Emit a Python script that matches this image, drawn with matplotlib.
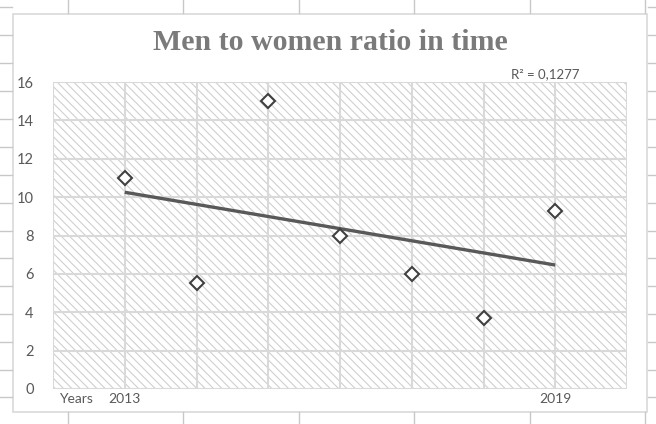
import numpy as np
import matplotlib
matplotlib.use('Agg')
import matplotlib.pyplot as plt
from matplotlib.patches import Rectangle
from matplotlib.lines import Line2D

years = [2013, 2014, 2015, 2016, 2017, 2018, 2019]
ratio = [11.0, 5.5, 15.0, 8.0, 6.0, 3.7, 9.3]
x_ticks = [2012, 2013, 2014, 2015, 2016, 2017, 2018, 2019, 2020]
x_labels = ['', '2013', '', '', '', '', '', '2019', '']
y_ticks = [0, 2, 4, 6, 8, 10, 12, 14, 16]
r2_label = 'R² = 0,1277'

W, H = 656, 424
plt.rcParams['hatch.linewidth'] = 0.8


def px(x, y):
    # pixel coords (top-left origin) -> figure fraction
    return x / W, 1 - y / H


fig = plt.figure(figsize=(W / 100, H / 100), dpi=100)
fig.patch.set_facecolor('white')

# spreadsheet cell lines peeking out around the chart
cell_col = '#c8c8c8'
for cx in [68, 183, 299, 414, 530, 645]:
    fig.add_artist(Line2D([cx / W] * 2, [1, 1 - 13 / H], color=cell_col, lw=1))
    fig.add_artist(Line2D([cx / W] * 2, [1 - 412 / H, 0], color=cell_col, lw=1))
for ry in [7, 35, 63, 91, 119, 147, 175, 203, 231, 258, 286, 314, 342, 370, 397]:
    fig.add_artist(Line2D([0, 12 / W], [1 - ry / H] * 2, color=cell_col, lw=1))
    fig.add_artist(Line2D([648 / W, 1], [1 - ry / H] * 2, color=cell_col, lw=1))

# chart border
x0, y0 = px(13, 412)
fig.add_artist(Rectangle((x0, y0), (647 - 13) / W, (412 - 14) / H,
                         transform=fig.transFigure, facecolor='white',
                         edgecolor='#d9d9d9', lw=1.2, zorder=0))

l, b = px(53, 389)
r, t = px(627, 82)
ax = fig.add_axes([l, b, r - l, t - b])
ax.set_facecolor('none')

ax.add_patch(Rectangle((0, 0), 1, 1, transform=ax.transAxes, facecolor='white',
                       edgecolor='#d0d0d0', hatch='\\\\\\\\', lw=0, zorder=0))

ax.set_xlim(2012, 2020)
ax.set_ylim(0, 16)
ax.set_xticks(x_ticks)
ax.set_xticklabels(x_labels)
ax.set_yticks(y_ticks)
ax.grid(True, color='#d9d9d9', lw=1.5, zorder=1)
ax.set_axisbelow(True)
for s in ax.spines.values():
    s.set_visible(False)
ax.tick_params(length=0, labelsize=10, labelcolor='#595959')
ax.tick_params(axis='x', pad=3)
ax.tick_params(axis='y', pad=14, labelsize=10.5)
for lab in ax.get_xticklabels() + ax.get_yticklabels():
    lab.set_fontfamily('Lato')

ax.text(2012.32, -0.21, 'Years', ha='center', va='top', fontsize=10,
        color='#595959', family='Lato')

ax.plot(years, ratio, linestyle='none', marker='D', markersize=7,
        markerfacecolor='white', markeredgecolor='#404040',
        markeredgewidth=1.5, zorder=3, clip_on=False)

# linear trendline
xs = np.array(years, dtype=float)
ys = np.array(ratio)
k, c = np.polyfit(xs, ys, 1)
ax.plot([xs[0], xs[-1]], [k * xs[0] + c, k * xs[-1] + c], color='#595959',
        lw=2.4, solid_capstyle='butt', zorder=2)

fig.text(545 / W, 1 - 74 / H, r2_label, ha='center', va='center',
         fontsize=9.5, color='#595959', family='Lato')

fig.text(330 / W, 1 - 43 / H, 'Men to women ratio in time', ha='center',
         va='center', fontsize=21.5, fontweight='bold', color='#7a7a7a',
         family='Liberation Serif')

fig.savefig('out.png', dpi=100)
